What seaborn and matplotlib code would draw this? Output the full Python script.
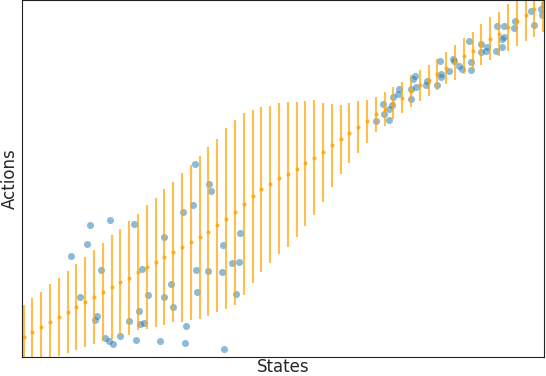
import matplotlib
matplotlib.use("Agg")
import matplotlib.pyplot as plt
import seaborn as sns

states_obs = [48.7, 67.7, 87.5, 64.8, 78.7, 58.3, 75.2, 73.0, 83.3, 86.5, 91.3, 97.7,
              107.3, 111.5, 120.2, 117.2, 118.3, 122.2, 114.0, 125.7, 141.7, 141.7,
              149.0, 151.2, 138.0, 164.3, 163.3, 161.2, 170.7, 173.5, 175.2, 172.7,
              187.0, 188.8, 186.0, 200.0, 200.8, 210.2, 216.7, 217.5, 214.0, 202.0,
              354.2, 366.7, 362.2, 361.2, 366.7, 370.2, 371.2, 375.8, 376.7, 389.0,
              389.0, 390.5, 393.2, 394.0, 404.3, 405.3, 415.2, 417.5, 418.5, 419.0,
              426.7, 430.5, 431.7, 436.5, 439.5, 449.3, 449.3, 446.5, 459.2, 458.8,
              464.7, 464.3, 473.7, 480.3, 479.8, 481.5, 474.7, 482.3, 492.0, 492.5,
              509.2, 512.3, 519.3, 519.8, 522.0]
actions_obs = [100.8, 131.7, 136.7, 112.7, 86.7, 60.5, 41.0, 37.0, 19.5, 15.7, 13.0, 21.0,
               35.8, 132.8, 87.8, 46.2, 33.3, 34.3, 17.3, 62.3, 119.8, 59.7,
               72.7, 50.2, 15.7, 31.3, 13.7, 144.8, 151.7, 86.7, 65.2, 192.8,
               172.8, 165.7, 85.7, 84.7, 112.2, 94.3, 95.0, 124.3, 63.3, 7.7,
               235.8, 236.8, 243.3, 252.7, 248.5, 251.8, 260.3, 262.8, 267.7, 257.7,
               267.7, 278.5, 280.8, 269.7, 271.8, 275.8, 271.7, 295.7, 283.5, 279.7,
               286.0, 297.7, 295.7, 291.0, 288.5, 287.3, 294.8, 315.7, 313.2, 305.3,
               309.8, 306.0, 306.0, 309.8, 317.8, 320.5, 330.8, 330.7, 328.7, 336.3,
               346.3, 331.7, 348.0, 341.8, 353.0]

# predictive mean and half-width of the interval at the grid states
states_grid = [1.5, 10.3, 19.1, 27.9, 36.7, 45.5, 54.3, 63.1, 71.9, 80.7,
               89.6, 98.4, 107.2, 116.0, 124.8, 133.6, 142.4, 151.2, 160.0, 168.8,
               177.6, 186.4, 195.2, 204.0, 212.8, 221.6, 230.5, 239.3, 248.1, 256.9,
               265.7, 274.5, 283.3, 292.1, 300.9, 309.7, 318.5, 327.3, 336.1, 344.9,
               353.7, 362.5, 371.4, 380.2, 389.0, 397.8, 406.6, 415.4, 424.2, 433.0,
               441.8, 450.6, 459.4, 468.2, 477.0, 485.8, 494.6, 503.5, 512.3, 521.1]
mean_pred = [20, 25, 30, 35, 40, 45, 50, 55, 60, 65,
             70, 75, 79.3, 85, 90, 94.7, 100, 105, 109.7, 114.8,
             119.7, 125.3, 131.7, 138.3, 144.7, 153.3, 160.7, 167.7, 172.7, 178.7,
             183, 187.7, 193.7, 199.3, 204.7, 211.7, 217.7, 223.8, 230.2, 235.7,
             242.7, 247.8, 253.7, 259.3, 266, 271.7, 276.7, 282.7, 289, 294.7,
             300.7, 306.3, 312.7, 318.3, 323.3, 329.7, 335.7, 341.7, 347.7, 353.7]
half_width = [32, 34.3, 35.3, 38.3, 39.3, 41.3, 43.3, 45.3, 47.3, 49.3,
              52.3, 53.3, 57, 58.3, 62, 64.6, 68.3, 70.3, 74.6, 77.3,
              81.4, 84.3, 86.8, 90.3, 92.8, 90.8, 86.3, 82.8, 78.8, 75.3,
              72.5, 67.5, 62.3, 57.3, 49.3, 41.8, 34.8, 29.8, 25.8, 21.8,
              17.8, 16.8, 16, 15.3, 15.7, 15.4, 15.4, 15.4, 16.3, 17.5,
              18, 19, 20.5, 21.5, 22, 23.7, 24.7, 25.7, 27.7, 28.7]

sns.set_style("white")

fig = plt.figure(figsize=(5.46, 3.76), dpi=100)
ax = fig.add_axes([22 / 546, 19 / 376, 522 / 546, 357 / 376])

sns.scatterplot(x=states_obs, y=actions_obs, ax=ax, color="tab:blue",
                alpha=0.5, s=26, linewidth=0)
ax.errorbar(states_grid, mean_pred, yerr=half_width, fmt=".", color="orange",
            alpha=0.7, elinewidth=1.5, markersize=4)

ax.set_xlim(0, 522)
ax.set_ylim(0, 357)
ax.set_xticks([])
ax.set_yticks([])
ax.set_xlabel("States", fontsize=12, labelpad=1)
ax.set_ylabel("Actions", fontsize=12, labelpad=2)
for s in ax.spines.values():
    s.set_color("#222222")

fig.savefig("out.png", dpi=100)
